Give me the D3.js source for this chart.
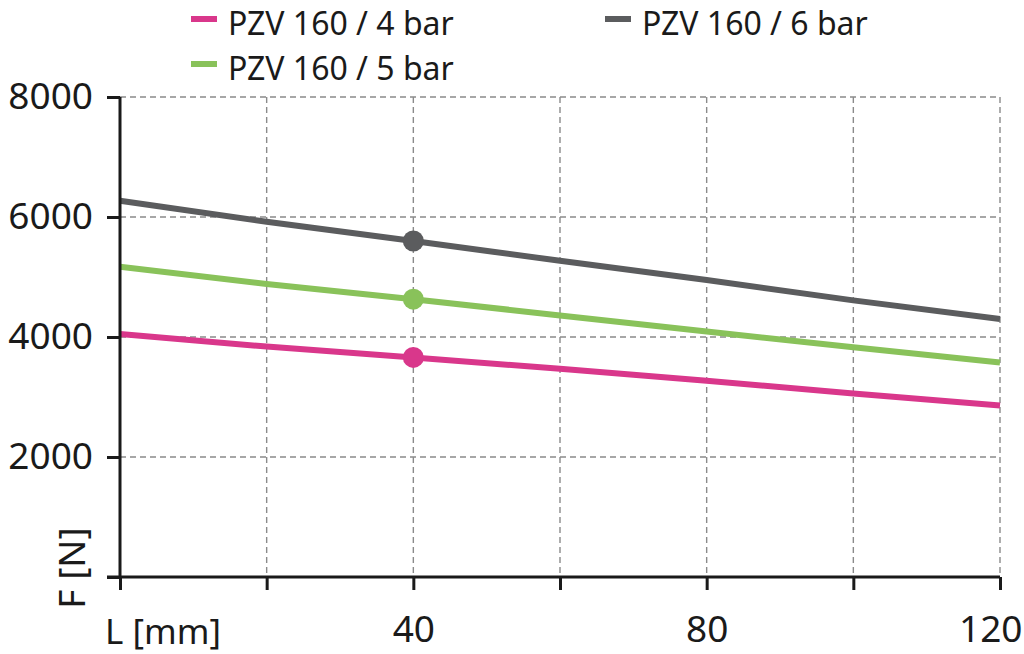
<!DOCTYPE html>
<html><head><meta charset="utf-8">
<script src="https://cdn.jsdelivr.net/npm/d3@7"></script>
<style>
html,body{margin:0;padding:0;background:#fff;}
svg{display:block;font-family:"Noto Sans",sans-serif;}
</style></head>
<body>
<svg id="chart" width="1024" height="654"></svg>
<script>
const lengths = [0, 20, 40, 60, 80, 100, 120];
const force4bar = [4050, 3840, 3660, 3470, 3270, 3060, 2860];
const force5bar = [5170, 4885, 4630, 4360, 4090, 3830, 3575];
const force6bar = [6270, 5920, 5600, 5270, 4950, 4610, 4300];
const seriesNames = ["PZV 160 / 4 bar", "PZV 160 / 5 bar", "PZV 160 / 6 bar"];
const seriesColors = ["#d9378b", "#89c25a", "#5b5c5e"];
const markerLength = 40;
const xTicks = [0, 20, 40, 60, 80, 100, 120];
const xTickLabels = ["", "", "40", "", "80", "", "120"];
const yTicks = [0, 2000, 4000, 6000, 8000];
const yTickLabels = ["", "2000", "4000", "6000", "8000"];
const xTitle = "L [mm]";
const yTitle = "F [N]";

const svg = d3.select("#chart");
const x = d3.scaleLinear().domain([0, 120]).range([120, 1000]);
const y = d3.scaleLinear().domain([0, 8000]).range([577, 97]);

// grid
const grid = svg.append("g").attr("stroke", "#8a8a8a").attr("stroke-width", 1.4).attr("stroke-dasharray", "6,4");
grid.selectAll("line.v").data(xTicks.filter(d => d > 0)).join("line")
  .attr("x1", d => x(d)).attr("x2", d => x(d)).attr("y1", y(8000)).attr("y2", y(0));
grid.selectAll("line.h").data(yTicks.filter(d => d > 0)).join("line")
  .attr("x1", x(0)).attr("x2", x(120)).attr("y1", d => y(d)).attr("y2", d => y(d));

// series
const series = [force4bar, force5bar, force6bar];
const line = d3.line().x((d, i) => x(lengths[i])).y(d => y(d));
series.forEach((vals, k) => {
  svg.append("path").datum(vals).attr("d", line)
    .attr("fill", "none").attr("stroke", seriesColors[k]).attr("stroke-width", 6);
  const idx = lengths.indexOf(markerLength);
  svg.append("circle").attr("cx", x(markerLength)).attr("cy", y(vals[idx])).attr("r", 10.5)
    .attr("fill", seriesColors[k]);
});

// axes
const xAxis = d3.axisBottom(x).tickValues(xTicks).tickFormat((d, i) => xTickLabels[i]).tickSize(13).tickSizeOuter(0).tickPadding(26);
const gx = svg.append("g").attr("transform", `translate(0,${y(0)})`).call(xAxis);
const yAxis = d3.axisLeft(y).tickValues(yTicks).tickFormat((d, i) => yTickLabels[i]).tickSize(13).tickSizeOuter(0).tickPadding(14);
const gy = svg.append("g").attr("transform", `translate(${x(0)},0)`).call(yAxis);
[gx, gy].forEach(g => {
  g.selectAll("path.domain").attr("stroke", "#1a1a1a").attr("stroke-width", 3);
  g.selectAll(".tick line").attr("stroke", "#1a1a1a").attr("stroke-width", 3);
  g.selectAll(".tick text").attr("fill", "#1a1a1a").style("font-size", "37px").style("font-family", "'Noto Sans',sans-serif");
});
// extend domains to the corner
gx.select("path.domain").attr("d", `M${x(0)-13},0H${x(120)}`);
gy.select("path.domain").attr("d", `M0,${y(0)}V${y(8000)}`);
gx.selectAll(".tick text").attr("dy", "0.71em").filter(d => d === 120)
  .attr("text-anchor", "end").attr("x", 22);

// axis titles
svg.append("text").attr("x", 105).attr("y", 644).attr("fill", "#1a1a1a")
  .style("font-size", "35px").text(xTitle);
svg.append("text").attr("transform", `translate(85,568) rotate(-90)`).attr("text-anchor", "middle")
  .attr("fill", "#1a1a1a").style("font-size", "37px").text(yTitle);

// legend
const legendPos = [[191, 23], [191, 68], [605, 23]];
seriesNames.forEach((name, k) => {
  const [lx, ly] = legendPos[k];
  svg.append("line").attr("x1", lx).attr("x2", lx + 26).attr("y1", ly - 4).attr("y2", ly - 4)
    .attr("stroke", seriesColors[k]).attr("stroke-width", 6);
  svg.append("text").attr("x", lx + 37).attr("y", ly + 12).attr("fill", "#1a1a1a")
    .style("font-size", "32px").text(name);
});
</script>
</body></html>
